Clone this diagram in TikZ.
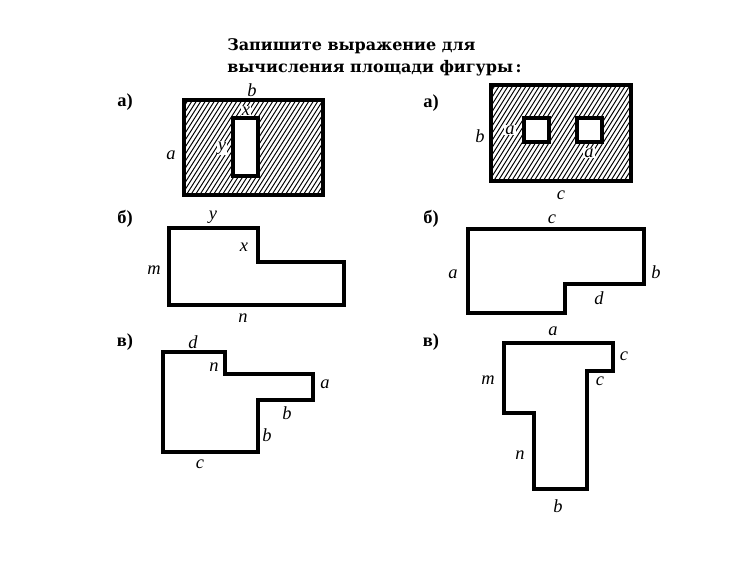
\documentclass[tikz,border=0pt]{standalone}
\usepackage{fontspec}
\setmainfont{DejaVu Serif}
\newfontfamily\bodyfont{Liberation Serif}
\tikzset{
  fig/.style={line width=1.75pt,line join=miter},
  hatch/.style={line width=0.55pt},
  lbl/.style={inner sep=0pt,font=\fontsize{10.5}{11}\selectfont\bodyfont\itshape},
  onhatch/.style={lbl,fill=white,inner sep=0.6pt},
  item/.style={inner sep=0pt,font=\fontsize{10.5}{11}\selectfont\bodyfont\bfseries},
  ttl/.style={inner sep=0pt,anchor=base west,font=\fontsize{9.1}{11}\selectfont\bfseries}
}
\begin{document}
\begin{tikzpicture}[x=0.02cm,y=-0.02cm]
\useasboundingbox (0,0) rectangle (750,561);
\node[ttl] (title1) at (227,50) {Запишите выражение для};
\node[ttl] (title2) at (227,72) {вычисления площади фигуры\,:};
% left column
\node[item] (itemA) at (125,102) {а)};
\begin{scope}
\clip (184,100) rectangle (323,195);
\foreach \x in {0,4.5,...,260} \draw[hatch] (\x+120,200) -- (\x+190,90);
\end{scope}
\fill[white] (233,118) rectangle (258,176);
\draw[fig] (184,100) rectangle (323,195);
\draw[fig] (233,118) rectangle (258,176);
\node[lbl] (lb) at (252,90) {b};
\node[lbl] (la) at (171,155) {a};
\node[onhatch] (lx) at (246,111) {x};
\node[onhatch] (ly) at (222,148) {y};
\node[item] (itemB) at (125,219) {б)};
\draw[fig] (169,228) -- (258,228) -- (258,262) -- (344,262) -- (344,305) -- (169,305) -- cycle;
\node[lbl] (by) at (213,217) {y};
\node[lbl] (bx) at (244,247) {x};
\node[lbl] (bm) at (154,270) {m};
\node[lbl] (bn) at (243,318) {n};
\node[item] (itemC) at (125,342) {в)};
\draw[fig] (163,352) -- (225,352) -- (225,374) -- (313,374) -- (313,400) -- (258,400) -- (258,452) -- (163,452) -- cycle;
\node[lbl] (cd) at (193,342) {d};
\node[lbl] (cn) at (214,367) {n};
\node[lbl] (ca) at (325,384) {a};
\node[lbl] (cb) at (287,413) {b};
\node[lbl] (cbb) at (267,435) {b};
\node[lbl] (cc) at (200,464) {c};
% right column
\node[item] (itemD) at (431,103) {а)};
\begin{scope}
\clip (491,85) rectangle (631,181);
\foreach \x in {0,4.5,...,260} \draw[hatch] (\x+425,190) -- (\x+497,75);
\end{scope}
\foreach \x in {524,577} {
  \fill[white] (\x,118) rectangle (\x+25,142);
  \draw[fig] (\x,118) rectangle (\x+25,142);
}
\draw[fig] (491,85) rectangle (631,181);
\node[lbl] (db) at (480,136) {b};
\node[onhatch] (da) at (510,130) {a};
\node[onhatch] (daa) at (589,153) {a};
\node[lbl] (dc) at (561,195) {c};
\node[item] (itemE) at (431,219) {б)};
\draw[fig] (468,229) -- (644,229) -- (644,284) -- (565,284) -- (565,313) -- (468,313) -- cycle;
\node[lbl] (ec) at (552,219) {c};
\node[lbl] (ea) at (453,274) {a};
\node[lbl] (eb) at (656,272) {b};
\node[lbl] (ed) at (599,298) {d};
\node[item] (itemF) at (431,342) {в)};
\draw[fig] (504,343) -- (613,343) -- (613,371) -- (587,371) -- (587,489) -- (534,489) -- (534,413) -- (504,413) -- cycle;
\node[lbl] (fa) at (553,331) {a};
\node[lbl] (fc) at (624,356) {c};
\node[lbl] (fcc) at (600,381) {c};
\node[lbl] (fm) at (488,380) {m};
\node[lbl] (fn) at (520,455) {n};
\node[lbl] (fb) at (558,506) {b};
\end{tikzpicture}
\end{document}
